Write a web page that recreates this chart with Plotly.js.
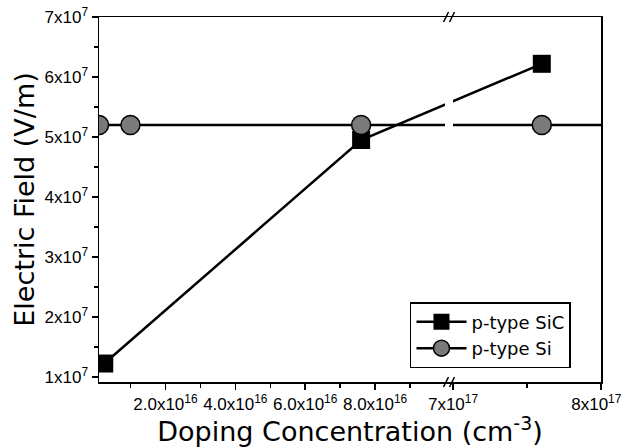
<!DOCTYPE html>
<html><head><meta charset="utf-8">
<script src="https://cdn.plot.ly/plotly-3.0.1.min.js"></script>
<style>html,body{margin:0;padding:0;background:#fff;}#chart{width:624px;height:447px;}</style>
</head><body><div id="chart"></div>
<script>
// ---- data ----
const sicName = 'p-type SiC';
const sicX = [2.5e15, 7.6e16, 7.6e17];
const sicY = [1.225e7, 4.95e7, 6.22e7];
const siName = 'p-type Si';
const siX = [1e15, 1e16, 7.6e16, 7.6e17, 1e18];
const siY = [5.2e7, 5.2e7, 5.2e7, 5.2e7, 5.2e7];

const xTickVals = [2e16, 4e16, 6e16, 8e16, 7e17, 8e17];
const xTickText = ['2.0x10<sup>16</sup>', '4.0x10<sup>16</sup>', '6.0x10<sup>16</sup>', '8.0x10<sup>16</sup>', '7x10<sup>17</sup>', '8x10<sup>17</sup>\u00a0\u00a0'];
const xMinorVals = [1e16, 3e16, 5e16, 7e16, 9e16, 7.5e17];
const yTickVals = [1e7, 2e7, 3e7, 4e7, 5e7, 6e7, 7e7];
const yTickText = ['1x10<sup>7</sup>', '2x10<sup>7</sup>', '3x10<sup>7</sup>', '4x10<sup>7</sup>', '5x10<sup>7</sup>', '6x10<sup>7</sup>', '7x10<sup>7</sup>'];
const yMinorVals = [1.5e7, 2.5e7, 3.5e7, 4.5e7, 5.5e7, 6.5e7];
const xMin = 1e15, xMax = 8e17;
const yMin = 0.917e7, yMax = 7e7;

// ---- broken x-axis scale ----
const BREAK_LO = 1e17, BREAK_HI = 7e17;
const LEFT_UNIT = 1e16;
const GAP = 0.229;
const RIGHT_SCALE = 0.4235;
function xpos(v) {
  return v <= BREAK_LO ? v / LEFT_UNIT
    : BREAK_LO / LEFT_UNIT + GAP + (v - BREAK_HI) / LEFT_UNIT * RIGHT_SCALE;
}
const r0 = xpos(xMin), r1 = xpos(xMax);
const toPaper = p => (p - r0) / (r1 - r0);

const black = '#000';
const tickFont = {family: 'Liberation Sans, Arial, sans-serif', size: 17, color: black};
const titleFont = {family: 'DejaVu Sans, sans-serif', size: 27, color: black};

const traces = [
  {x: sicX.map(xpos), y: sicY, name: sicName, type: 'scatter', mode: 'lines+markers',
   line: {color: black, width: 2.5},
   marker: {symbol: 'square', size: 18, color: black, line: {color: black, width: 0}},
   cliponaxis: true},
  {x: siX.map(xpos), y: siY, name: siName, type: 'scatter', mode: 'lines+markers',
   line: {color: black, width: 2.5},
   marker: {symbol: 'circle', size: 19, color: '#7a7a7a', line: {color: black, width: 1.5}},
   cliponaxis: true}
];

const plotW = 624 - 99 - 23, plotH = 447 - 17 - 65;
const bLo = toPaper(xpos(BREAK_LO)), bHi = toPaper(xpos(BREAK_HI));
const bC = (bLo + bHi) / 2;
const shapes = [
  {type: 'rect', xref: 'paper', yref: 'paper', x0: bLo, x1: bHi, y0: 0.006, y1: 0.994,
   fillcolor: '#fff', line: {width: 0}, layer: 'above'}
];
[-3, 3].forEach(off => {
  [0, 1].forEach(yb => {
    const cx = bC + off / plotW;
    shapes.push({type: 'line', xref: 'paper', yref: 'paper',
      x0: cx - 2.5 / plotW, x1: cx + 2.5 / plotW,
      y0: yb - 5 / plotH, y1: yb + 5 / plotH,
      line: {color: black, width: 1.5}, layer: 'above'});
  });
});

const axisCommon = {
  showgrid: false, zeroline: false, showline: true, linecolor: black, linewidth: 1.5,
  mirror: true, ticks: 'outside', ticklen: 6, tickwidth: 1.5, tickcolor: black,
  tickmode: 'array', tickfont: tickFont, ticklabeloverflow: 'allow'
};

const layout = {
  width: 624, height: 447,
  margin: {l: 99, r: 23, t: 17, b: 65},
  paper_bgcolor: '#fff', plot_bgcolor: '#fff',
  showlegend: true,
  legend: {x: 0.6195, y: 0.219, xanchor: 'left', yanchor: 'top', bgcolor: '#fff',
    bordercolor: black, borderwidth: 1.5, itemwidth: 50, tracegroupgap: 0,
    font: {family: 'DejaVu Sans, sans-serif', size: 18, color: black}},
  xaxis: Object.assign({}, axisCommon, {
    range: [r0, r1],
    tickvals: xTickVals.map(xpos), ticktext: xTickText,
    minor: {tickmode: 'array', tickvals: xMinorVals.map(xpos), ticks: 'outside', ticklen: 4, tickwidth: 1.5, tickcolor: black},
    title: {text: 'Doping Concentration (cm<sup>-3</sup>)', font: titleFont, standoff: 2}
  }),
  yaxis: Object.assign({}, axisCommon, {
    range: [yMin, yMax],
    tickvals: yTickVals, ticktext: yTickText,
    minor: {tickmode: 'array', tickvals: yMinorVals, ticks: 'outside', ticklen: 4, tickwidth: 1.5, tickcolor: black},
    title: {text: 'Electric Field (V/m)', font: titleFont, standoff: 2}
  }),
  shapes: shapes
};

Plotly.newPlot('chart', traces, layout, {displayModeBar: false, staticPlot: true});
</script>
</body></html>
